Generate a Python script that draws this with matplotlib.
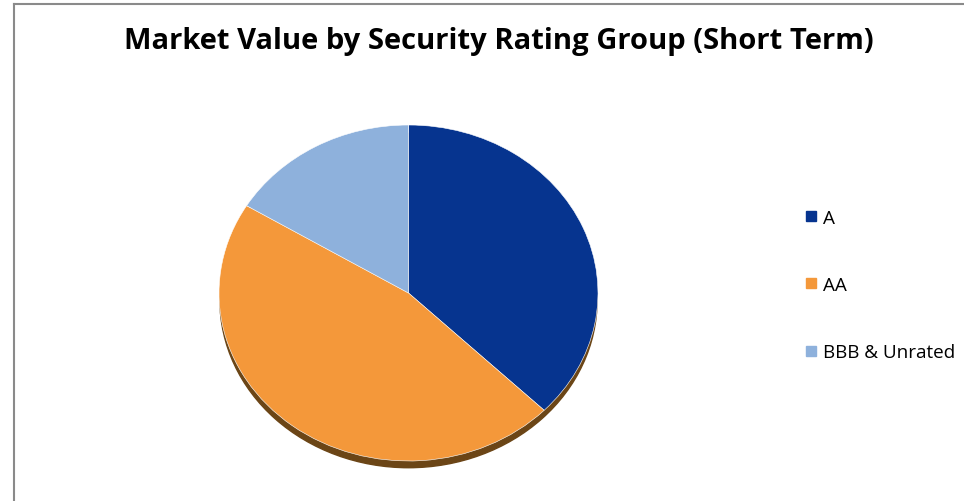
import matplotlib.pyplot as plt
from matplotlib.lines import Line2D
from matplotlib.patches import Ellipse

# data
labels = ['A', 'AA', 'BBB & Unrated']
shares = [37.3, 46.4, 16.3]
colors = ['#06348F', '#F4983A', '#8EB1DC']

fig = plt.figure(figsize=(9.64, 5.02), dpi=100)

# frame lines (left and top edges of the chart area)
fig.add_artist(Line2D([14 / 964, 14 / 964], [0, 1 - 5 / 502], color='#8a8a8a', lw=1.5))
fig.add_artist(Line2D([14 / 964, 1], [1 - 5 / 502, 1 - 5 / 502], color='#8a8a8a', lw=1.5))

fig.text(0.517, 1 - 42 / 502, 'Market Value by Security Rating Group (Short Term)',
         ha='center', va='center', fontsize=21, fontweight='bold',
         family='Open Sans', color='black')

# pie is slightly flattened, like the tilted original
ax = fig.add_axes([219 / 964, 40 / 502, 379 / 964, 336 / 502])

# drop shadow under the pie
ax.add_patch(Ellipse((0, -0.045), 1.99, 1.99, color='#6B4516', zorder=0, clip_on=False))
wedges, _ = ax.pie(shares, colors=colors, startangle=90, counterclock=False,
                   radius=1, wedgeprops=dict(edgecolor='white', linewidth=0.4))
for w in wedges:
    w.set_zorder(2)
    w.set_clip_on(False)
ax.set_xlim(-1, 1)
ax.set_ylim(-1, 1)
ax.set_aspect('auto')
ax.axis('off')

handles = [Line2D([], [], marker='s', ls='none', markersize=6.5, color=c) for c in colors]
fig.legend(handles, labels, loc='center left', bbox_to_anchor=(786 / 964, 1 - 286 / 502),
           frameon=False, labelspacing=2.6, handletextpad=0.25,
           handlelength=0.8, prop=dict(family='Open Sans', size=13.6))

fig.savefig('out.png', dpi=100)
